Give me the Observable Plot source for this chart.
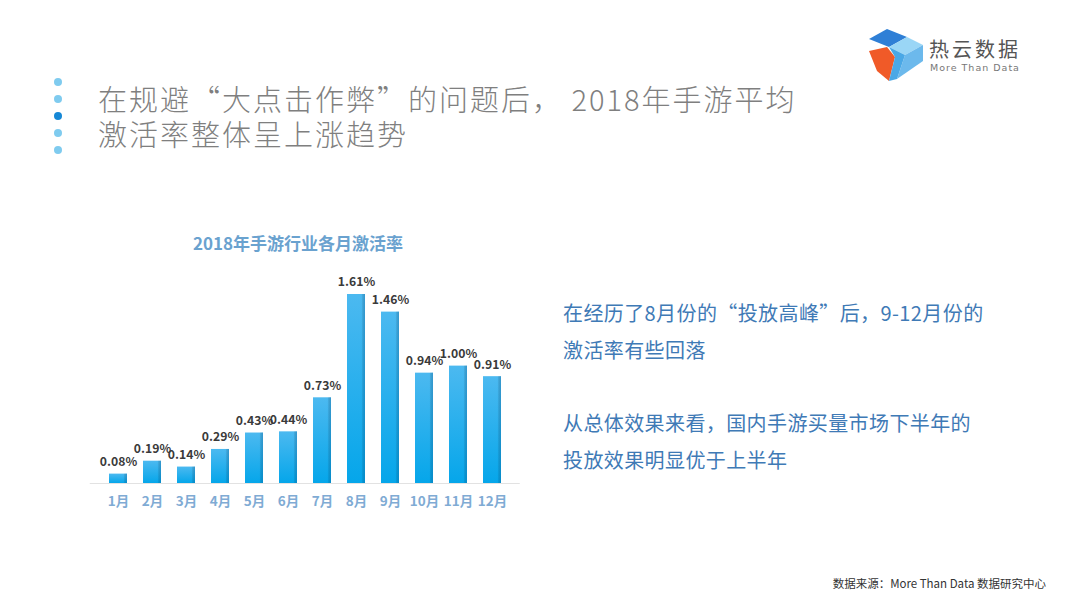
<!DOCTYPE html>
<html><head><meta charset="utf-8">
<script src="https://cdn.jsdelivr.net/npm/d3@7"></script>
<script src="https://cdn.jsdelivr.net/npm/@observablehq/plot@0.6"></script>
<style>
html,body{margin:0;padding:0;background:#fff;}
body{width:1080px;height:608px;position:relative;overflow:hidden;font-family:"Noto Sans CJK SC","Noto Sans",sans-serif;}
.abs{position:absolute;white-space:nowrap;}
.title{left:98px;font-size:29px;line-height:34px;height:34px;color:#7f7f7f;letter-spacing:2px;font-weight:300;}
#ctitle{left:90px;width:416px;text-align:center;top:230px;font-size:17px;font-weight:700;color:#6aa2cf;}
.note{left:563px;font-size:20px;line-height:28px;color:#3f7ab6;letter-spacing:0.4px;}
#src{right:34px;top:575px;font-size:11.5px;color:#333;}
#chart{left:90px;top:260px;}
.dot{position:absolute;width:8px;height:8px;border-radius:50%;background:#7fcbef;left:54px;}
</style></head>
<body>
<div class="dot" style="top:78px"></div>
<div class="dot" style="top:95px"></div>
<div class="dot" style="top:112px;background:#1688d6"></div>
<div class="dot" style="top:129px"></div>
<div class="dot" style="top:146px"></div>
<div class="abs title" style="top:81px">在规避“大点击作弊”的问题后， 2018年手游平均</div>
<div class="abs title" style="top:116px">激活率整体呈上涨趋势</div>
<svg class="abs" style="left:865px;top:27px" width="62" height="56" viewBox="0 0 62 56">
  <polygon points="4,12 22,2 42,10 24,20" fill="#2f7fd6"/>
  <polygon points="24,20 42,10 58,18 40,28" fill="#9ad6f6"/>
  <polygon points="40,28 58,18 58,34 32,52" fill="#6cb9ec"/>
  <polygon points="4,24 22,20 30,30 24,54 12,44" fill="#f05a28"/>
  <polygon points="24,20 40,28 32,52 24,54 30,30" fill="#4aa8e6"/>
</svg>
<div class="abs" style="left:929px;top:34px;font-size:20px;color:#555;letter-spacing:3px;">热云数据</div>
<div class="abs" style="left:930px;top:62px;font-size:9.5px;color:#777;letter-spacing:1px;font-family:'DejaVu Sans',sans-serif;">More Than Data</div>
<div id="ctitle" class="abs">2018年手游行业各月激活率</div>
<div id="chart" class="abs"></div>
<div class="abs note" style="top:299px">在经历了8月份的“投放高峰”后，9-12月份的</div>
<div class="abs note" style="top:336px">激活率有些回落</div>
<div class="abs note" style="top:409px">从总体效果来看，国内手游买量市场下半年的</div>
<div class="abs note" style="top:446px">投放效果明显优于上半年</div>
<div id="src" class="abs">数据来源：More Than Data 数据研究中心</div>
<script>
const months = ["1月","2月","3月","4月","5月","6月","7月","8月","9月","10月","11月","12月"];
const rates = [0.08,0.19,0.14,0.29,0.43,0.44,0.73,1.61,1.46,0.94,1.00,0.91];
const labels = ["0.08%","0.19%","0.14%","0.29%","0.43%","0.44%","0.73%","1.61%","1.46%","0.94%","1.00%","0.91%"];
const data = months.map((m,i)=>({month:m, rate:rates[i], label:labels[i]}));

const chart = Plot.plot({
  width: 440, height: 258,
  marginLeft: 7.75, marginRight: 18.25, marginTop: 34, marginBottom: 35,
  x: {domain: months, paddingInner: 0.48, paddingOuter: 0.24, label: null, axis: null},
  y: {domain: [0, 1.61], axis: null},
  style: {fontFamily: "'Noto Sans CJK SC','Noto Sans',sans-serif", background: "transparent", overflow: "visible"},
  marks: [
    () => {
      const ns = "http://www.w3.org/2000/svg";
      const defs = document.createElementNS(ns, "defs");
      defs.innerHTML = `<linearGradient id="bg" x1="0" y1="0" x2="0" y2="1">
        <stop offset="0" stop-color="#4cb9f0"/><stop offset="1" stop-color="#05a6ea"/></linearGradient>
        <linearGradient id="bg2" x1="0" y1="0" x2="1" y2="0">
        <stop offset="0.8" stop-color="#000" stop-opacity="0"/><stop offset="1" stop-color="#0a5e98" stop-opacity="0.35"/></linearGradient>`;
      return defs;
    },
    Plot.ruleY([0], {stroke: "#e2e2e2", strokeWidth: 1, insetLeft: -8, insetRight: -8}),
    Plot.barY(data, {x: "month", y: "rate", fill: "url(#bg)"}),
    Plot.barY(data, {x: "month", y: "rate", fill: "url(#bg2)"}),
    Plot.text(data, {x: "month", y: "rate", text: "label", dy: -12, fontSize: 12.2, fontWeight: 700, fill: "#3a3a3a"}),
    Plot.axisX({tickSize: 0, tickPadding: 13, fontSize: 13.5, fontWeight: 700, color: "#7fabd4", label: null})
  ]
});
document.getElementById("chart").appendChild(chart);
</script>
</body></html>
